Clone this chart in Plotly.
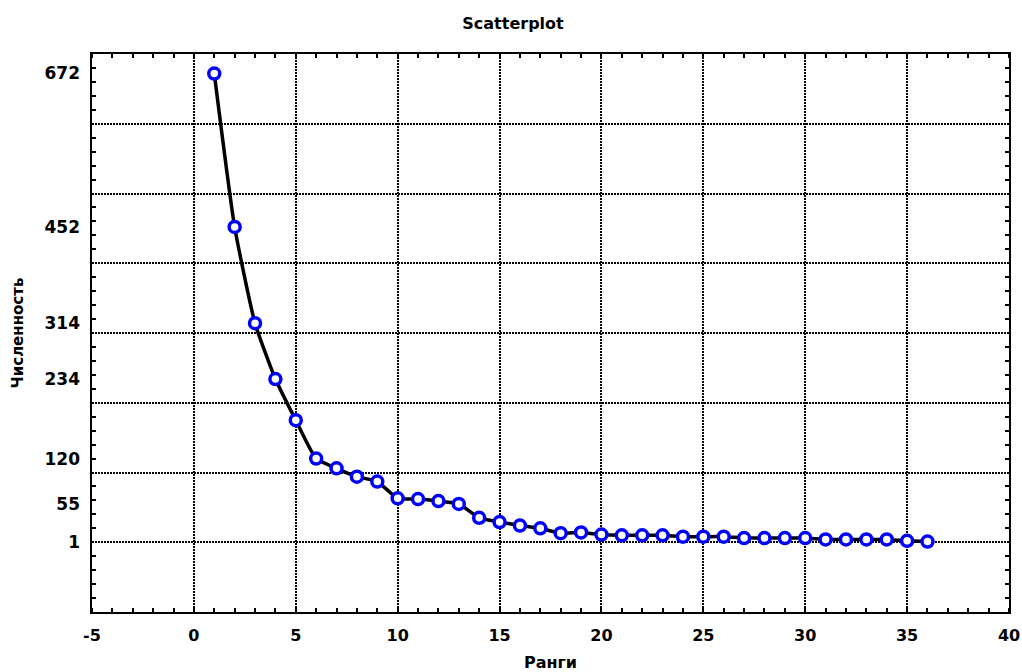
import plotly.graph_objects as go

# Data
ranks = list(range(1, 37))
counts = [672, 452, 314, 234, 175, 120, 106, 94, 87, 63, 62, 59, 55, 35, 29, 24, 20, 13,
          14, 11, 10, 10, 10, 8, 8, 8, 6, 6, 6, 6, 4, 4, 4, 4, 2, 1]

x_tick_vals = [-5, 0, 5, 10, 15, 20, 25, 30, 35, 40]
x_tick_text = ["-5", "0", "5", "10", "15", "20", "25", "30", "35", "40"]
y_label_vals = [672, 452, 314, 234, 120, 55, 1]
y_label_text = ["672", "452", "314", "234", "120", "55", "1"]

title_text = "Scatterplot"
x_title = "Ранги"
y_title = "Численность"

FONT = "DejaVu Sans"

fig = go.Figure()
fig.add_trace(go.Scatter(
    x=ranks, y=counts, mode="lines+markers",
    line=dict(color="black", width=3.5, shape="spline", smoothing=0.5),
    marker=dict(symbol="circle", size=11, color="white",
                line=dict(color="#0000ff", width=3.5)),
    showlegend=False, hoverinfo="x+y",
))
# empty trace so the label axis (y2) is drawn
fig.add_trace(go.Scatter(x=[], y=[], yaxis="y2", showlegend=False, hoverinfo="skip"))

grid = dict(showgrid=True, gridcolor="black", gridwidth=2, griddash="2px,1px")

fig.update_layout(
    width=1022, height=672,
    margin=dict(l=92, r=13, t=54, b=60, autoexpand=False),
    paper_bgcolor="white", plot_bgcolor="white",
    font=dict(family=FONT, color="black", size=16, weight="bold"),
    title=dict(text=title_text, x=513 / 1022, xref="container", y=1 - 23 / 672,
               yanchor="middle", xanchor="center",
               font=dict(family=FONT, size=16, weight="bold", color="black")),
    xaxis=dict(
        range=[-5, 40], tickmode="array", tickvals=x_tick_vals, ticktext=x_tick_text,
        ticks="", ticklabelstandoff=8, showline=True, linecolor="black", linewidth=2,
        mirror="allticks", zeroline=False, automargin=False, **grid,
        tickfont=dict(family=FONT, size=16, weight="bold"),
        minor=dict(tickvals=list(range(-5, 41)), ticks="inside", ticklen=4,
                   tickcolor="black", tickwidth=2, showgrid=False),
        title=dict(text=x_title, standoff=16,
                   font=dict(family=FONT, size=16, weight="bold")),
    ),
    yaxis=dict(
        range=[-100, 700], tickmode="linear", tick0=0, dtick=100,
        showticklabels=False, ticks="", showline=True, linecolor="black",
        linewidth=2, mirror="allticks", zeroline=False, automargin=False, **grid,
        minor=dict(dtick=20, ticks="inside", ticklen=4, tickcolor="black",
                   tickwidth=2, showgrid=False),
    ),
    yaxis2=dict(
        overlaying="y", side="left", anchor="x", range=[-100, 700],
        tickmode="array", tickvals=y_label_vals, ticktext=y_label_text,
        ticks="", ticklabelstandoff=11, showgrid=False, zeroline=False, showline=False,
        automargin=False,
        tickfont=dict(family=FONT, size=17, weight="bold"),
        title=dict(text=y_title, standoff=17,
                   font=dict(family=FONT, size=15, weight="bold")),
    ),
)

fig.write_html("out.html", config={"displayModeBar": False},
               post_script="document.body.style.margin='0';")
